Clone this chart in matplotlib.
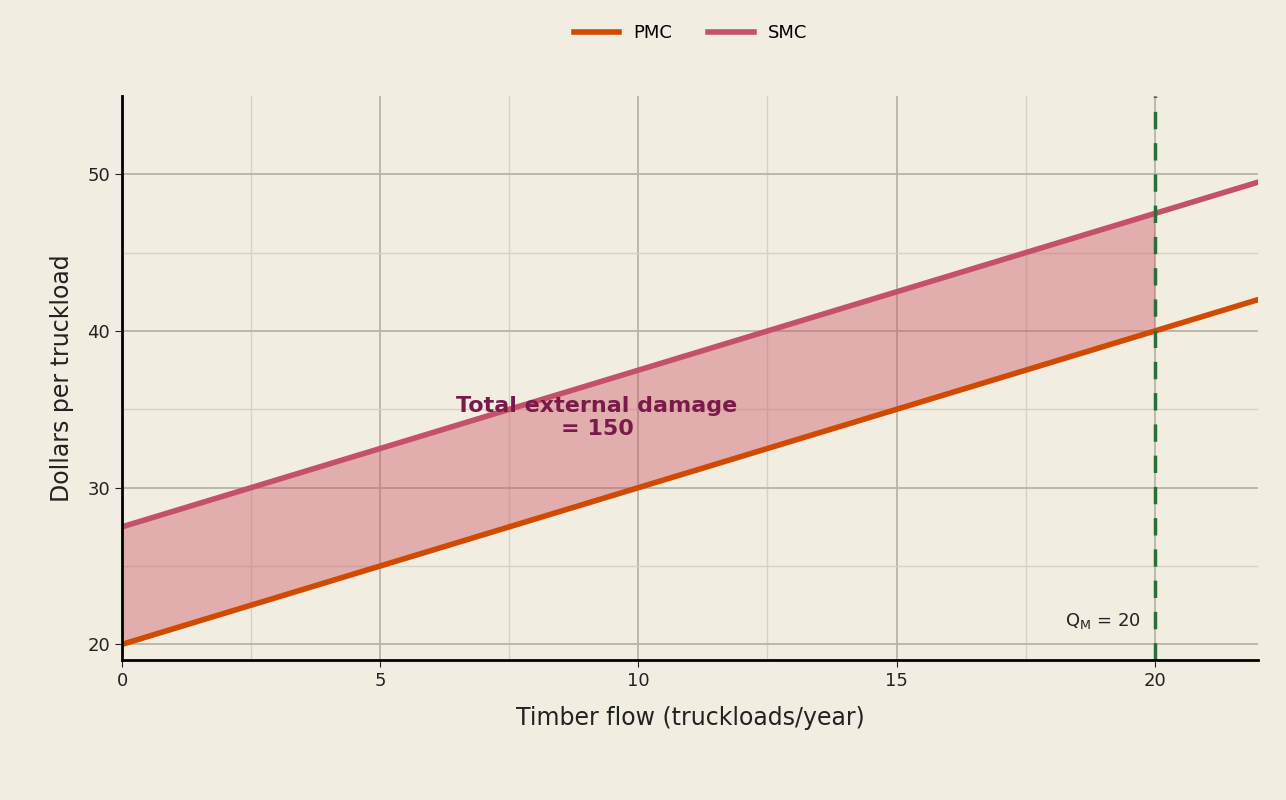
import matplotlib
matplotlib.use("Agg")
import matplotlib.pyplot as plt
import numpy as np

x_pts = [0, 22]
pmc = [20, 42]
smc = [27.5, 49.5]
x_fill = [0, 20]
pmc_fill = [20, 40]
smc_fill = [27.5, 47.5]
q_m = 20

bg = "#f1ede1"
fig = plt.figure(figsize=(12.86, 8), dpi=100, facecolor=bg)
ax = fig.add_axes([0.0949, 0.175, 0.8833, 0.705], facecolor=bg)
ax.set_xlim(0, 22)
ax.set_ylim(19, 55)
ax.set_xticks([0, 5, 10, 15, 20])
ax.set_yticks([20, 30, 40, 50])
ax.set_xticks(np.arange(2.5, 22, 5), minor=True)
ax.set_yticks([25, 35, 45], minor=True)
ax.grid(which="major", color="#b8b4a8", lw=1.3)
ax.grid(which="minor", color="#d6d2c6", lw=1)
ax.tick_params(which="minor", length=0)
ax.tick_params(which="major", labelsize=13, colors="#222", length=5)
ax.set_axisbelow(True)
for s in ["top", "right"]:
    ax.spines[s].set_visible(False)
for s in ["left", "bottom"]:
    ax.spines[s].set_linewidth(2)

ax.fill_between(x_fill, pmc_fill, smc_fill, color="#c9505f", alpha=0.4, lw=0)
ax.plot(x_pts, pmc, color="#d04a02", lw=4, label="PMC")
ax.plot(x_pts, smc, color="#c4506a", lw=4, label="SMC")
ax.axvline(q_m, color="#2a6e3a", lw=2.5, ls=(0, (5, 4)))
ax.text(9.2, 34.5, "Total external damage\n= 150", ha="center", va="center",
        fontsize=16, fontweight="bold", color="#7a1a4a")
ax.text(19.0, 21.2, r"$\mathregular{Q_M}$ = 20", ha="center", fontsize=13, color="#222")
ax.set_xlabel("Timber flow (truckloads/year)", fontsize=17, color="#222", labelpad=12)
ax.set_ylabel("Dollars per truckload", fontsize=17, color="#222", labelpad=10)
fig.legend(loc="upper center", bbox_to_anchor=(0.537, 0.99), ncol=2, frameon=False,
           fontsize=13, handlelength=2.5, columnspacing=2)
fig.savefig("out.png", facecolor=bg)
